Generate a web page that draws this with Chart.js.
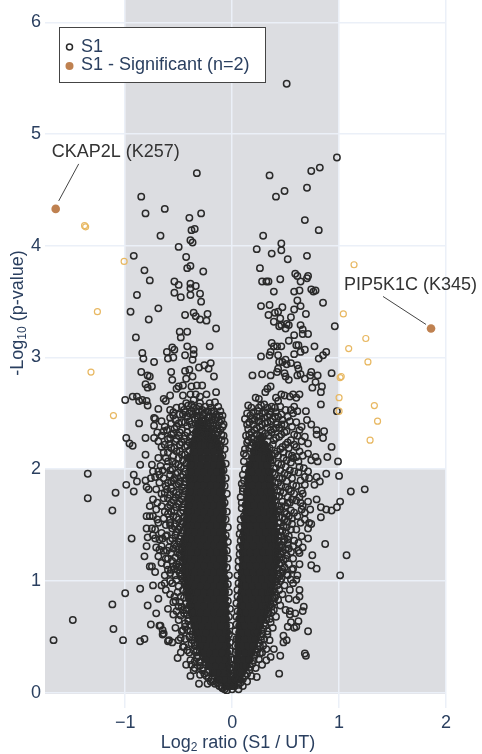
<!DOCTYPE html>
<html>
<head>
<meta charset="utf-8">
<script src="https://cdn.jsdelivr.net/npm/chart.js@4.4.1/dist/chart.umd.min.js"></script>
<style>
  html, body { margin: 0; padding: 0; background: #fff; }
</style>
</head>
<body>
<canvas id="volcano" width="482" height="754"></canvas>
<script>
// x: Log2 ratio (S1 / UT), y: -Log10 (p-value)
const sigX = [-1.65, 1.86];
const sigY = [4.33, 3.26];
const sigNames = ['CKAP2L (K257)', 'PIP5K1C (K345)'];
const xTicks = [-1, 0, 1, 2];
const yTicks = [0, 1, 2, 3, 4, 5, 6];

// outside the fold-change band, shown in sand colour
const nearPts = [
  [-1.38,4.18],[-1.37,4.17],[-1.01,3.86],[-1.26,3.41],[-1.32,2.87],[-1.11,2.48],
  [1.14,3.83],[1.04,3.39],[1.25,3.17],[1.09,3.08],[1.27,2.96],[1.01,2.82],[1.02,2.83],
  [1.00,2.64],[1.33,2.57],[1.00,2.52],[1.36,2.43],[1.29,2.26]
];

const upperLeft = [
  [-0.33,4.65],[-0.85,4.44],[-0.81,4.29],[-0.63,4.33],[-0.40,4.25],[-0.29,4.29],[-0.35,4.15],[-0.38,4.14],
  [-0.67,4.09],[-0.39,4.05],[-0.37,4.03],[-0.50,3.99],[-0.92,3.91],[-0.43,3.90],[-0.82,3.78],[-0.39,3.82],
  [-0.42,3.80],[-0.27,3.77],[-0.77,3.69],[-0.54,3.68],[-0.50,3.65],[-0.39,3.66],[-0.34,3.64],[-0.39,3.62],
  [-0.89,3.56],[-0.54,3.58],[-0.48,3.54],[-0.30,3.57],[-0.39,3.56],[-0.29,3.50],[-0.69,3.44],[-0.95,3.41],
  [-0.44,3.38],[-0.36,3.40],[-0.34,3.37],[-0.23,3.39],[-0.30,3.34],[-0.24,3.33],[-0.78,3.34],[-0.49,3.23],
  [-0.48,3.18],[-0.42,3.23],[-0.15,3.26],[-0.90,3.18],[-0.42,3.10],[-0.21,3.10],[-0.56,3.09],[-0.54,3.07],
  [-0.61,3.05],[-0.60,2.99],[-0.55,3.00],[-0.84,3.04],[-0.83,2.99],[-0.73,2.96],[-0.36,3.07],[-0.36,3.03],
  [-0.37,2.98],[-0.44,3.02],[-0.20,2.95],[-0.26,2.93],[-0.31,2.91],[-0.22,2.90],[-0.85,2.87],[-0.79,2.84],
  [-0.77,2.83],[-0.57,2.87],[-0.56,2.80],[-0.44,2.88],[-0.40,2.89],[-0.43,2.81],[-0.37,2.83],[-0.17,2.83],
  [-0.81,2.76],[-0.79,2.73],[-0.75,2.74],[-0.52,2.72],[-0.50,2.74],[-0.46,2.75],[-0.38,2.74],[-0.33,2.75],
  [-0.28,2.75],[-0.15,2.69],[-1.00,2.62],[-0.93,2.65],[-0.89,2.65],[-0.87,2.61],[-0.84,2.62],[-0.80,2.61],
  [-0.79,2.57],[-0.64,2.63],[-0.62,2.61],[-0.58,2.66],[-0.69,2.54],[-0.73,2.46],[-0.46,2.66],[-0.39,2.67],
  [-0.34,2.67],[-0.30,2.65],[-0.24,2.67],[-0.36,2.62],[-0.43,2.59],[-0.30,2.59],[-0.21,2.59],[-0.58,2.53],
  [-0.55,2.51],[-0.46,2.49],[-0.38,2.52],[-0.31,2.56],[-0.17,2.52],[-0.15,2.49],[-0.26,2.50],[-0.21,2.46]
];

const upperRight = [
  [0.51,5.45],[0.98,4.79],[0.74,4.67],[0.82,4.70],[0.35,4.63],[0.70,4.52],[0.49,4.49],[0.41,4.44],
  [0.68,4.23],[0.81,4.14],[0.29,4.09],[0.46,4.02],[0.46,3.96],[0.23,3.97],[0.37,3.93],[0.70,3.91],
  [0.52,3.88],[0.26,3.80],[0.59,3.75],[0.61,3.73],[0.71,3.73],[0.70,3.71],[0.28,3.68],[0.32,3.68],
  [0.34,3.68],[0.45,3.70],[0.64,3.68],[0.39,3.59],[0.58,3.59],[0.63,3.60],[0.74,3.61],[0.78,3.60],
  [0.76,3.59],[0.61,3.51],[0.85,3.49],[0.27,3.46],[0.35,3.47],[0.47,3.45],[0.58,3.43],[0.64,3.46],
  [0.34,3.38],[0.40,3.40],[0.43,3.41],[0.45,3.35],[0.39,3.32],[0.55,3.36],[0.53,3.29],[0.46,3.29],
  [0.44,3.28],[0.51,3.30],[0.50,3.26],[0.69,3.39],[0.96,3.28],[0.64,3.29],[0.66,3.25],[0.71,3.21],
  [0.66,3.21],[0.58,3.20],[0.53,3.15],[0.62,3.11],[0.37,3.13],[0.39,3.10],[0.42,3.10],[0.46,3.10],
  [0.36,3.05],[0.60,3.11],[0.64,3.05],[0.68,3.07],[0.77,3.10],[0.88,3.05],[0.85,3.02],[0.81,2.99],
  [0.27,3.01],[0.35,3.02],[0.43,3.02],[0.44,2.96],[0.47,2.96],[0.50,2.98],[0.51,2.94],[0.55,2.95],
  [0.58,3.03],[0.61,2.93],[0.62,2.90],[0.19,2.84],[0.28,2.85],[0.36,2.84],[0.43,2.90],[0.42,2.87],
  [0.49,2.86],[0.50,2.83],[0.53,2.80],[0.61,2.84],[0.64,2.85],[0.68,2.81],[0.74,2.87],[0.73,2.84],
  [0.80,2.84],[0.78,2.78],[0.75,2.73],[0.84,2.74],[0.83,2.69],[0.93,2.86],[0.22,2.64],[0.25,2.63],
  [0.31,2.69],[0.33,2.72],[0.36,2.74],[0.41,2.64],[0.43,2.61],[0.46,2.67],[0.49,2.66],[0.54,2.65],
  [0.57,2.67],[0.60,2.64],[0.63,2.67],[0.58,2.56],[0.55,2.53],[0.61,2.52],[0.40,2.55],[0.33,2.55],
  [0.24,2.52],[0.69,2.52],[0.83,2.58],[0.98,2.52]
];

const midLeft = [
  [-0.87,2.41],[-0.73,2.39],[-0.72,2.45],[-0.70,2.33],[-0.81,2.28],[-0.99,2.28],[-0.96,2.23],[-0.93,2.21],
  [-0.81,2.13],[-0.86,2.04],[-0.73,2.28],[-0.75,2.04],[-0.74,1.98],[-0.69,1.98],[-0.72,1.93],[-0.68,1.95],
  [-0.65,1.99],[-0.92,1.95],[-0.89,1.89],[-0.99,1.86],[-0.92,1.80],[-1.09,1.79],[-1.12,1.63],[-1.35,1.96],
  [-1.35,1.74],[-0.81,1.90],[-0.76,1.92],[-0.78,1.82],[-0.80,1.84],[-0.74,1.73],[-0.71,1.64],[-0.77,1.67],
  [-0.80,1.58],[-0.77,1.58],[-0.74,1.58],[-0.80,1.47],[-0.75,1.47],[-0.74,1.41],[-0.72,1.38],[-0.79,1.39],
  [-0.94,1.38],[-0.68,1.37],[-0.65,1.38],[-0.61,1.41],[-0.66,1.31],[-0.68,1.28],[-0.82,1.22],[-0.77,1.13],
  [-0.80,1.31],[-0.66,1.16],[-0.75,1.13],[-0.69,2.10],[-0.64,2.15],[-0.60,2.27],[-0.66,2.20],[-0.62,1.85],
  [-0.66,1.78],[-0.58,1.68],[-0.63,1.62],[-0.69,1.52],[-0.58,1.52],[-0.64,1.27],[-0.60,1.20]
];

const midRight = [
  [0.11,2.14],[0.16,2.04],[0.09,1.87],[0.08,1.75],[0.11,1.58],[0.10,1.40],[0.99,2.07],[1.00,1.94],
  [1.11,1.80],[1.24,1.82],[0.88,1.96],[0.93,2.20],[0.89,2.11],[0.86,2.34],[0.85,2.28],[0.79,2.31],
  [0.79,2.35],[0.71,2.14],[0.74,2.08],[0.80,2.07],[0.78,2.11],[0.79,1.93],[0.82,1.89],[0.77,1.86],
  [0.72,1.92],[0.68,1.86],[1.01,1.71],[0.98,1.66],[0.93,1.63],[0.88,1.64],[0.83,1.66],[0.79,1.73],
  [0.71,1.71],[0.73,1.64],[0.83,1.57],[0.87,1.33],[0.75,1.23],[1.07,1.23],[0.68,1.55],[0.72,1.52],
  [0.71,1.47],[0.65,1.64],[0.66,1.67],[0.63,1.75],[0.65,1.81],[0.68,1.93],[0.71,1.98],[0.63,2.02],
  [0.60,2.11],[0.63,2.16],[0.74,2.40],[0.70,2.44],[0.65,2.38],[0.68,2.29],[0.71,2.23],[0.65,2.25],
  [0.74,1.14],[0.79,1.11],[1.01,1.05],[0.71,1.38],[0.74,1.51],[0.66,1.30],[0.63,1.25]
];

const lowLeft = [
  [-1.12,0.79],[-1.00,0.89],[-1.11,0.57],[-1.02,0.47],[-0.86,0.93],[-0.86,0.46],[-0.82,0.48],[-0.79,0.78],
  [-0.71,0.71],[-0.76,0.61],[-0.67,0.60],[-0.65,0.56],[-0.65,0.52],[-0.60,0.46],[-0.51,0.31],[-0.39,0.15],
  [-0.31,0.08],[-0.23,0.08],[-1.67,0.47],[-1.49,0.65],[-0.68,0.60],[-0.64,0.53],[-0.59,0.47],[-0.18,0.10],
  [-0.63,0.98],[-0.66,0.96],[-0.57,1.10],[-0.54,1.11],[-0.58,1.07],[-0.54,0.86],[-0.55,0.81],[-0.52,0.73],
  [-0.50,0.77],[-0.46,0.74],[-0.46,0.56],[-0.48,0.49],[-0.46,0.41],[-0.50,0.47],[-0.39,0.29],[-0.38,0.25],
  [-0.35,0.22],[-0.42,0.38],[-0.33,0.38]
];

const lowRight = [
  [0.63,0.92],[0.63,0.86],[0.67,0.77],[0.66,0.73],[0.54,0.73],[0.60,0.83],[0.71,0.55],[0.60,0.59],
  [0.58,0.58],[0.52,0.59],[0.68,0.35],[0.69,0.33],[0.44,0.17],[0.45,0.33],[0.39,0.39],[0.48,0.51],
  [0.48,0.45],[0.51,0.47],[0.54,0.92],[0.57,0.98],[0.36,0.32],[0.32,0.29],[0.28,0.25],[0.23,0.14],
  [0.55,0.63],[0.62,0.64],[0.54,0.70],[0.59,0.71],[0.57,1.11],[0.61,1.05],[0.60,1.01],[0.52,1.05],
  [0.46,1.02]
];

// loose points hugging the dense arms
const fringeLeft = [
  [-0.36,0.38],[-0.38,0.44],[-0.35,0.28],[-0.40,0.50],[-0.42,0.56],[-0.44,0.62],[-0.41,0.66],[-0.45,0.71],
  [-0.47,0.77],[-0.43,0.80],[-0.48,0.86],[-0.46,0.92],[-0.50,0.95],[-0.52,1.01],[-0.48,1.04],[-0.51,1.10],
  [-0.55,1.13],[-0.49,1.17],[-0.53,1.21],[-0.57,1.25],[-0.50,1.28],[-0.54,1.33],[-0.58,1.36],[-0.48,1.40],
  [-0.52,1.44],[-0.56,1.47],[-0.47,1.51],[-0.50,1.55],[-0.55,1.58],[-0.60,1.60],[-0.46,1.63],[-0.52,1.66],
  [-0.57,1.70],[-0.47,1.73],[-0.50,1.77],[-0.55,1.80],[-0.61,1.82],[-0.45,1.86],[-0.49,1.89],[-0.54,1.92],
  [-0.58,1.95],[-0.44,1.98],[-0.48,2.02],[-0.53,2.05],[-0.60,2.07],[-0.42,2.10],[-0.47,2.13],[-0.52,2.16],
  [-0.57,2.19],[-0.63,2.22],[-0.40,2.24],[-0.45,2.27],[-0.50,2.30],[-0.55,2.32],[-0.61,2.35],[-0.37,2.36],
  [-0.42,2.39],[-0.47,2.42],[-0.53,2.44],[-0.58,2.46],[-0.66,2.43],[-0.34,2.41],[-0.29,2.38],[-0.24,2.36],
  [-0.19,2.33],[-0.14,2.30],[-0.10,2.26],[-0.25,2.44],[-0.20,2.41],[-0.15,2.39],[-0.11,2.35],[-0.33,2.48],
  [-0.28,2.46],[-0.40,2.50],[-0.45,2.53],[-0.36,2.55],[-0.12,2.42],[-0.18,2.47],[-0.23,2.52],[-0.13,2.56],
  [-0.08,2.30],[-0.07,2.18],[-0.06,2.05],[-0.06,1.92],[-0.05,1.78],[-0.05,1.62],[-0.04,1.48],[-0.04,1.35],
  [-0.04,1.20],[-0.03,1.05],[-0.03,0.90],[-0.02,0.75],[-0.02,0.60],[-0.02,0.45],[-0.01,0.30],[-0.01,0.15],
  [0.00,0.03],[-0.05,0.02],[-0.10,0.05],[-0.14,0.09],[-0.19,0.12],[-0.23,0.18],[-0.27,0.22],[-0.30,0.27],
  [-0.32,0.33],[-0.63,1.05],[-0.66,1.43],[-0.70,1.55],[-0.62,1.50],[-0.64,1.74],[-0.68,1.88],[-0.59,1.30],
  [-0.62,1.20],[-0.56,0.98],[-0.58,0.88],[-0.53,0.82],[-0.55,0.70],[-0.50,0.65],[-0.47,0.55],[-0.44,0.48],
  [-0.40,0.36],[-0.60,0.75],[-0.62,0.92],[-0.69,1.22],[-0.72,1.08],[-0.74,0.96],[-0.69,0.84],[-0.56,0.45],
  [-0.48,0.36],[-0.43,0.25],[-0.36,0.20],[-0.30,0.16],[-0.45,0.41],[-0.53,0.58],
  [-0.46,1.02],[-0.49,1.07],[-0.53,1.05],[-0.47,1.12],[-0.52,1.15],[-0.56,1.18],[-0.61,1.14],[-0.48,1.22],
  [-0.51,1.25],[-0.55,1.29],[-0.61,1.27],[-0.47,1.30],[-0.50,1.35],[-0.56,1.38],[-0.62,1.40],[-0.46,1.45],
  [-0.49,1.48],[-0.53,1.51],[-0.58,1.55],[-0.64,1.56],[-0.45,1.57],[-0.48,1.61],[-0.54,1.63],[-0.60,1.66],
  [-0.66,1.67],[-0.45,1.69],[-0.49,1.71],[-0.53,1.75],[-0.58,1.77],[-0.63,1.79],[-0.44,1.80],[-0.47,1.84],
  [-0.52,1.86],[-0.57,1.89],[-0.64,1.92],[-0.43,1.92],[-0.46,1.95],[-0.51,1.97],[-0.56,2.00],[-0.61,2.02],
  [-0.43,2.05],[-0.46,2.08],[-0.50,2.10],[-0.55,2.12],[-0.60,2.15],[-0.40,2.17],[-0.44,2.20],[-0.49,2.22],
  [-0.53,2.25],[-0.58,2.28],[-0.66,2.30],[-0.38,2.30],[-0.42,2.33],[-0.47,2.35],[-0.52,2.38],[-0.57,2.41],
  [-0.63,2.38],[-0.35,2.26],[-0.30,2.28],[-0.26,2.30],[-0.21,2.28],[-0.16,2.26],[-0.12,2.22],[-0.32,2.33],
  [-0.27,2.35],[-0.22,2.38],[-0.17,2.36],[-0.13,2.33],[-0.09,2.38],[-0.30,2.42],[-0.35,2.45],[-0.40,2.43],
  [-0.27,2.40],[-0.19,2.44],[-0.14,2.46],[-0.10,2.44],[-0.42,2.47],[-0.49,2.49],[-0.52,2.55],[-0.41,2.57],
  [-0.34,2.52],[-0.28,2.53],[-0.20,2.55],[-0.16,2.60],[-0.11,2.52],[-0.08,2.40],[-0.07,2.25],[-0.09,2.12],
  [-0.08,1.99],[-0.07,1.85],[-0.07,1.70],[-0.06,1.55],[-0.06,1.41],[-0.05,1.27],[-0.05,1.12],[-0.04,0.97],
  [-0.04,0.82],[-0.03,0.68],[-0.03,0.52],[-0.02,0.37],[-0.02,0.22],[-0.43,0.95],[-0.45,0.85],[-0.43,0.74],
  [-0.41,0.64],[-0.39,0.55],[-0.37,0.47],[-0.35,0.42],[-0.33,0.31],[-0.30,0.24],[-0.26,0.17],[-0.22,0.13],
  [-0.16,0.08],[-0.09,0.04],[-0.58,1.00],[-0.60,1.10],[-0.51,0.90],[-0.49,0.81],[-0.48,0.69],[-0.44,0.59],
  [-0.71,1.30],[-0.72,1.46],[-0.70,1.70],[-0.71,1.82],[-0.67,2.03],[-0.69,2.25],[-0.64,2.34]
];

const denseLeft = [
  [-0.45,1.00],[-0.47,1.06],[-0.50,1.13],[-0.46,1.18],[-0.49,1.24],[-0.47,1.27],[-0.52,1.31],[-0.46,1.34],
  [-0.49,1.38],[-0.53,1.41],[-0.47,1.43],[-0.50,1.46],[-0.54,1.49],[-0.58,1.50],[-0.46,1.53],[-0.52,1.57],
  [-0.57,1.62],[-0.47,1.66],[-0.50,1.69],[-0.55,1.72],[-0.60,1.74],[-0.46,1.76],[-0.52,1.79],[-0.57,1.83],
  [-0.45,1.83],[-0.50,1.87],[-0.55,1.90],[-0.60,1.88],[-0.44,1.89],[-0.48,1.93],[-0.53,1.96],[-0.58,1.99],
  [-0.45,2.01],[-0.50,2.04],[-0.56,2.07],[-0.62,2.10],[-0.44,2.13],[-0.49,2.16],[-0.54,2.19],[-0.59,2.22],
  [-0.42,2.21],[-0.47,2.24],[-0.52,2.27],[-0.57,2.31],[-0.36,2.22],[-0.39,2.28],[-0.44,2.30],[-0.49,2.33],
  [-0.54,2.36],[-0.34,2.33],[-0.38,2.40],[-0.44,2.42],[-0.50,2.41],[-0.55,2.48],[-0.31,2.36],[-0.26,2.33],
  [-0.23,2.30],[-0.19,2.27],[-0.14,2.24],[-0.11,2.20],[-0.29,2.31],[-0.24,2.26],[-0.20,2.22],[-0.28,2.43],
  [-0.23,2.41],[-0.18,2.39],[-0.14,2.36],[-0.10,2.31],[-0.32,2.45],[-0.37,2.49],[-0.44,2.51],[-0.27,2.49],
  [-0.22,2.47],[-0.16,2.44],[-0.12,2.48],[-0.31,2.52],[-0.38,2.58],[-0.47,2.56],[-0.25,2.56],[-0.19,2.52],
  [-0.09,2.48],[-0.41,0.86],[-0.43,0.90],[-0.44,0.97],[-0.40,0.78],[-0.42,0.70],[-0.39,0.60],[-0.37,0.52],
  [-0.35,0.45],[-0.34,0.36],[-0.31,0.28],[-0.28,0.20],[-0.24,0.15],[-0.20,0.10],[-0.12,0.06],[-0.07,0.03]
];

const fringeRight = [
  [0.25,0.30],[0.22,0.22],[0.18,0.15],[0.14,0.10],[0.10,0.06],[0.06,0.03],[0.28,0.36],[0.26,0.42],
  [0.30,0.48],[0.33,0.55],[0.31,0.60],[0.35,0.66],[0.37,0.72],[0.34,0.76],[0.39,0.81],[0.41,0.87],
  [0.38,0.91],[0.42,0.96],[0.45,1.00],[0.43,1.06],[0.47,1.10],[0.44,1.15],[0.48,1.19],[0.45,1.24],
  [0.50,1.28],[0.46,1.32],[0.49,1.37],[0.53,1.40],[0.45,1.44],[0.48,1.49],[0.52,1.53],[0.44,1.57],
  [0.49,1.61],[0.55,1.63],[0.43,1.67],[0.47,1.71],[0.52,1.75],[0.58,1.78],[0.42,1.81],[0.46,1.85],
  [0.51,1.89],[0.56,1.92],[0.40,1.95],[0.45,1.99],[0.50,2.02],[0.55,2.06],[0.38,2.08],[0.43,2.12],
  [0.48,2.15],[0.53,2.19],[0.58,2.22],[0.22,2.20],[0.27,2.23],[0.33,2.25],[0.38,2.22],[0.41,2.28],
  [0.46,2.31],[0.51,2.34],[0.56,2.38],[0.18,2.28],[0.23,2.31],[0.28,2.34],[0.33,2.37],[0.37,2.33],
  [0.42,2.40],[0.47,2.44],[0.52,2.47],[0.15,2.36],[0.20,2.40],[0.25,2.43],[0.30,2.46],[0.35,2.49],
  [0.40,2.47],[0.14,2.24],[0.13,2.12],[0.12,2.00],[0.11,1.90],[0.10,1.80],[0.09,1.70],[0.08,1.55],
  [0.07,1.42],[0.07,1.30],[0.06,1.18],[0.05,1.05],[0.05,0.92],[0.04,0.80],[0.04,0.68],[0.03,0.55],
  [0.03,0.42],[0.02,0.30],[0.02,0.18],[0.56,1.56],[0.60,1.46],[0.58,1.36],[0.55,1.26],[0.53,1.15],
  [0.51,1.06],[0.49,0.96],[0.47,0.88],[0.45,0.78],[0.41,0.68],[0.38,0.58],[0.35,0.47],[0.32,0.39],
  [0.53,0.84],[0.50,0.74],[0.57,1.20],[0.62,1.34],[0.61,1.58],[0.64,1.70],[0.60,1.85],[0.62,1.97],
  [0.57,2.10],[0.66,2.12],[0.61,2.30],[0.57,2.50],[0.45,2.56],[0.27,2.57],[0.17,2.48],[0.12,2.45],
  [0.42,1.02],[0.45,1.07],[0.49,1.12],[0.42,1.18],[0.46,1.21],[0.51,1.23],[0.43,1.28],[0.47,1.30],
  [0.52,1.33],[0.57,1.31],[0.43,1.36],[0.46,1.40],[0.50,1.43],[0.55,1.46],[0.42,1.48],[0.45,1.52],
  [0.49,1.55],[0.53,1.58],[0.58,1.61],[0.41,1.60],[0.45,1.64],[0.50,1.67],[0.54,1.70],[0.60,1.72],
  [0.40,1.72],[0.44,1.76],[0.48,1.79],[0.53,1.82],[0.57,1.86],[0.39,1.84],[0.43,1.88],[0.47,1.92],
  [0.52,1.95],[0.58,1.98],[0.38,1.97],[0.41,2.01],[0.46,2.04],[0.51,2.08],[0.56,2.12],[0.36,2.08],
  [0.40,2.14],[0.45,2.18],[0.50,2.22],[0.55,2.26],[0.34,2.14],[0.30,2.17],[0.25,2.18],[0.20,2.16],
  [0.16,2.19],[0.19,2.24],[0.24,2.26],[0.29,2.29],[0.34,2.30],[0.39,2.36],[0.44,2.37],[0.49,2.40],
  [0.54,2.43],[0.16,2.31],[0.21,2.35],[0.26,2.38],[0.31,2.41],[0.36,2.43],[0.41,2.51],[0.46,2.49],
  [0.50,2.53],[0.14,2.40],[0.19,2.45],[0.23,2.47],[0.28,2.50],[0.33,2.47],[0.37,2.56],[0.18,2.55],
  [0.13,2.30],[0.12,2.18],[0.11,2.07],[0.10,1.95],[0.10,1.83],[0.09,1.65],[0.08,1.48],[0.08,1.36],
  [0.07,1.24],[0.06,1.12],[0.06,0.98],[0.05,0.86],[0.05,0.73],[0.04,0.61],[0.04,0.48],[0.03,0.36],
  [0.03,0.24],[0.03,0.12],[0.39,0.95],[0.40,0.85],[0.36,0.79],[0.33,0.70],[0.30,0.62],[0.28,0.53],
  [0.27,0.47],[0.24,0.39],[0.21,0.33],[0.19,0.26],[0.16,0.20],[0.12,0.15],[0.08,0.09],[0.44,0.92],
  [0.43,0.83],[0.39,0.74],[0.36,0.63],[0.33,0.52],[0.29,0.42],[0.26,0.35],[0.55,1.01],[0.56,1.10],
  [0.63,1.15],[0.62,1.27],[0.65,1.40],[0.64,1.52],[0.68,1.61],[0.66,1.78],[0.64,1.90],[0.67,2.01],
  [0.62,2.07],[0.60,2.20],[0.63,2.35],[0.60,2.42],[0.58,2.31]
];

const denseRight = [
  [0.41,0.99],[0.44,1.04],[0.47,1.08],[0.42,1.11],[0.46,1.16],[0.50,1.20],[0.43,1.23],[0.47,1.26],
  [0.53,1.29],[0.44,1.32],[0.48,1.35],[0.52,1.37],[0.43,1.40],[0.47,1.45],[0.51,1.48],[0.56,1.51],
  [0.43,1.52],[0.47,1.57],[0.51,1.60],[0.42,1.63],[0.46,1.67],[0.52,1.70],[0.56,1.73],[0.41,1.76],
  [0.45,1.80],[0.50,1.84],[0.55,1.80],[0.40,1.88],[0.44,1.92],[0.49,1.96],[0.54,1.99],[0.39,2.01],
  [0.43,2.05],[0.48,2.10],[0.53,2.13],[0.37,2.12],[0.42,2.16],[0.47,2.20],[0.52,2.24],[0.35,2.19],
  [0.39,2.26],[0.44,2.29],[0.49,2.33],[0.31,2.21],[0.27,2.20],[0.22,2.22],[0.18,2.21],[0.15,2.26],
  [0.20,2.27],[0.26,2.30],[0.31,2.32],[0.36,2.35],[0.41,2.37],[0.46,2.40],[0.18,2.33],[0.23,2.37],
  [0.28,2.40],[0.33,2.42],[0.38,2.45],[0.43,2.47],[0.16,2.42],[0.21,2.44],[0.26,2.47],[0.31,2.51],
  [0.36,2.52],[0.14,2.50],[0.20,2.51],[0.25,2.55],[0.30,2.58],[0.15,2.57],[0.40,0.90],[0.38,0.84],
  [0.37,0.77],[0.34,0.72],[0.32,0.65],[0.29,0.57],[0.27,0.50],[0.25,0.44],[0.23,0.36],[0.20,0.29],
  [0.17,0.23],[0.14,0.17],[0.10,0.12],[0.06,0.07]
];

// overplotted cores of the two arms, one row per -log10(p): [y, x, x, ...]
const coreLeft = [
  [0.06,-0.02,-0.06],
  [0.12,-0.03,-0.08,-0.13],
  [0.18,-0.04,-0.09,-0.14,-0.18],
  [0.24,-0.04,-0.10,-0.16,-0.22],
  [0.30,-0.05,-0.08,-0.13,-0.19,-0.25],
  [0.36,-0.05,-0.10,-0.16,-0.22,-0.28],
  [0.42,-0.05,-0.08,-0.13,-0.19,-0.25,-0.30],
  [0.48,-0.05,-0.10,-0.16,-0.22,-0.28,-0.32],
  [0.54,-0.05,-0.08,-0.13,-0.19,-0.25,-0.31,-0.34],
  [0.60,-0.06,-0.11,-0.17,-0.23,-0.29,-0.35],
  [0.66,-0.06,-0.09,-0.14,-0.20,-0.26,-0.32,-0.36],
  [0.72,-0.06,-0.12,-0.18,-0.24,-0.30,-0.36,-0.38],
  [0.78,-0.06,-0.09,-0.15,-0.21,-0.27,-0.33,-0.39],
  [0.84,-0.07,-0.12,-0.18,-0.24,-0.30,-0.36,-0.40],
  [0.90,-0.07,-0.10,-0.15,-0.21,-0.27,-0.33,-0.39,-0.41],
  [0.96,-0.07,-0.12,-0.18,-0.24,-0.30,-0.36,-0.42],
  [1.02,-0.07,-0.10,-0.15,-0.21,-0.27,-0.33,-0.39,-0.43],
  [1.08,-0.08,-0.12,-0.18,-0.24,-0.30,-0.36,-0.42,-0.44],
  [1.14,-0.08,-0.10,-0.15,-0.21,-0.27,-0.33,-0.39,-0.44],
  [1.20,-0.08,-0.12,-0.18,-0.24,-0.30,-0.36,-0.42,-0.45],
  [1.26,-0.08,-0.10,-0.15,-0.21,-0.27,-0.33,-0.39,-0.45],
  [1.32,-0.08,-0.12,-0.18,-0.24,-0.30,-0.36,-0.42,-0.45],
  [1.38,-0.08,-0.11,-0.15,-0.21,-0.27,-0.33,-0.39,-0.44],
  [1.44,-0.09,-0.12,-0.18,-0.24,-0.30,-0.36,-0.42],
  [1.50,-0.09,-0.15,-0.21,-0.27,-0.33,-0.39,-0.43],
  [1.56,-0.09,-0.12,-0.18,-0.24,-0.30,-0.36,-0.42],
  [1.62,-0.09,-0.15,-0.21,-0.27,-0.33,-0.39,-0.42],
  [1.68,-0.09,-0.12,-0.18,-0.24,-0.30,-0.36,-0.41],
  [1.74,-0.09,-0.15,-0.21,-0.27,-0.33,-0.39,-0.41],
  [1.80,-0.10,-0.12,-0.18,-0.24,-0.30,-0.36,-0.40],
  [1.86,-0.10,-0.15,-0.21,-0.27,-0.33,-0.39],
  [1.92,-0.10,-0.13,-0.18,-0.24,-0.30,-0.36,-0.40],
  [1.98,-0.10,-0.15,-0.21,-0.27,-0.33,-0.39],
  [2.04,-0.10,-0.13,-0.18,-0.24,-0.30,-0.36,-0.39],
  [2.10,-0.11,-0.17,-0.23,-0.29,-0.35,-0.40],
  [2.16,-0.12,-0.18,-0.24,-0.30,-0.36],
  [2.22,-0.14,-0.20,-0.26,-0.32,-0.37],
  [2.28,-0.17,-0.23,-0.29,-0.34],
  [2.34,-0.21,-0.27,-0.33],
  [2.40,-0.26,-0.31]
];

const coreRight = [
  [0.06,0.02],
  [0.12,0.03,0.07],
  [0.18,0.04,0.09],
  [0.24,0.05,0.10,0.13],
  [0.30,0.05,0.11,0.16],
  [0.36,0.06,0.12,0.18],
  [0.42,0.06,0.10,0.15,0.20],
  [0.48,0.06,0.12,0.18,0.22],
  [0.54,0.07,0.10,0.15,0.21,0.24],
  [0.60,0.07,0.12,0.18,0.24,0.26],
  [0.66,0.07,0.10,0.15,0.21,0.27,0.28],
  [0.72,0.08,0.13,0.19,0.25,0.30],
  [0.78,0.08,0.10,0.16,0.22,0.28,0.32],
  [0.84,0.08,0.13,0.19,0.25,0.31,0.34],
  [0.90,0.09,0.11,0.16,0.22,0.28,0.34,0.36],
  [0.96,0.09,0.13,0.19,0.25,0.31,0.37],
  [1.02,0.09,0.11,0.16,0.22,0.28,0.34,0.38],
  [1.08,0.09,0.14,0.20,0.26,0.32,0.38,0.39],
  [1.14,0.10,0.12,0.17,0.23,0.29,0.35,0.40],
  [1.20,0.10,0.14,0.20,0.26,0.32,0.38,0.41],
  [1.26,0.10,0.12,0.17,0.23,0.29,0.35,0.41],
  [1.32,0.10,0.14,0.20,0.26,0.32,0.38,0.41],
  [1.38,0.11,0.17,0.23,0.29,0.35,0.40],
  [1.44,0.11,0.14,0.20,0.26,0.32,0.38,0.40],
  [1.50,0.12,0.17,0.23,0.29,0.35,0.39],
  [1.56,0.12,0.15,0.20,0.26,0.32,0.38,0.39],
  [1.62,0.13,0.18,0.24,0.30,0.36,0.39],
  [1.68,0.13,0.15,0.21,0.27,0.33,0.38],
  [1.74,0.14,0.18,0.24,0.30,0.36,0.38],
  [1.80,0.14,0.16,0.21,0.27,0.33,0.37],
  [1.86,0.15,0.19,0.25,0.31,0.36],
  [1.92,0.15,0.16,0.22,0.28,0.34,0.36],
  [1.98,0.16,0.19,0.25,0.31,0.35],
  [2.04,0.17,0.22,0.28,0.33],
  [2.10,0.19,0.25,0.31,0.35],
  [2.16,0.21,0.27,0.33],
  [2.22,0.24,0.30],
  [2.28,0.27]
];

const ink = '#2a2a2a';
const sigColor = '#bf8150';
const nearColor = '#e8b862';
const axisBlue = '#2a3f5f';
const gridColor = '#ebf0f8';
const fontFamily = "'Liberation Sans', Arial, sans-serif";

const toXY = pts => pts.map(p => ({ x: p[0], y: p[1] }));
const fromRows = rows => rows.flatMap(r => r.slice(1).map(x => ({ x: x, y: r[0] })));

const openData = toXY([].concat(upperLeft, upperRight, midLeft, midRight, lowLeft, lowRight,
  fringeLeft, fringeRight, denseLeft, denseRight));
const coreData = fromRows(coreLeft).concat(fromRows(coreRight));
const nearData = toXY(nearPts);
const sigData = sigX.map((x, i) => ({ x: x, y: sigY[i] }));

function minusSign(v) {
  return v < 0 ? '\u2212' + Math.abs(v) : String(v);
}

// text with a subscript part, centred on (0, 0) of the current transform
function drawSubText(ctx, parts) {
  let total = 0;
  parts.forEach(p => { ctx.font = p[1] + 'px ' + fontFamily; total += ctx.measureText(p[0]).width; });
  let cx = -total / 2;
  parts.forEach(p => {
    ctx.font = p[1] + 'px ' + fontFamily;
    ctx.fillText(p[0], cx, p[2]);
    cx += ctx.measureText(p[0]).width;
  });
}

const shading = {
  id: 'shading',
  beforeDraw(chart) {
    const { ctx, chartArea: a, scales: { x, y } } = chart;
    ctx.save();
    ctx.fillStyle = '#fff';
    ctx.fillRect(0, 0, chart.width, chart.height);
    ctx.fillStyle = '#dcdde1';
    const y2 = y.getPixelForValue(2);
    ctx.fillRect(a.left, y2, a.right - a.left, a.bottom - y2);
    const xl = x.getPixelForValue(-1);
    const xr = x.getPixelForValue(1);
    ctx.fillRect(xl, a.top, xr - xl, y2 - a.top);
    ctx.restore();
  }
};

const overlay = {
  id: 'overlay',
  afterDraw(chart) {
    const { ctx, scales: { x, y } } = chart;
    ctx.save();
    ctx.textBaseline = 'middle';
    ctx.fillStyle = axisBlue;

    // axis titles
    ctx.save();
    ctx.translate(238, 743);
    drawSubText(ctx, [['Log', 18, 0], ['2', 12, 5], [' ratio (S1 / UT)', 18, 0]]);
    ctx.restore();
    ctx.save();
    ctx.translate(18, 313);
    ctx.rotate(-Math.PI / 2);
    drawSubText(ctx, [['-Log', 18, 0], ['10', 12, 5], [' (p-value)', 18, 0]]);
    ctx.restore();

    // labels for the significant sites
    const place = [
      { tx: -4, ty: -57, l0: [3, -8], l1: [23, -45] },
      { tx: -87, ty: -43, l0: [-5, -4], l1: [-48, -32] }
    ];
    ctx.font = '18px ' + fontFamily;
    sigData.forEach((d, i) => {
      const px = x.getPixelForValue(d.x);
      const py = y.getPixelForValue(d.y);
      const p = place[i];
      ctx.strokeStyle = '#444';
      ctx.lineWidth = 1;
      ctx.beginPath();
      ctx.moveTo(px + p.l0[0], py + p.l0[1]);
      ctx.lineTo(px + p.l1[0], py + p.l1[1]);
      ctx.stroke();
      ctx.fillStyle = '#333';
      ctx.textAlign = 'left';
      ctx.fillText(sigNames[i], px + p.tx, py + p.ty);
    });

    // legend box
    ctx.fillStyle = '#fff';
    ctx.fillRect(59, 27, 206, 55);
    ctx.strokeStyle = '#444';
    ctx.lineWidth = 1;
    ctx.strokeRect(59.5, 27.5, 206, 55);
    ctx.beginPath();
    ctx.arc(69.5, 47, 3, 0, Math.PI * 2);
    ctx.strokeStyle = ink;
    ctx.lineWidth = 1.5;
    ctx.stroke();
    ctx.beginPath();
    ctx.arc(69.5, 66, 4, 0, Math.PI * 2);
    ctx.fillStyle = sigColor;
    ctx.fill();
    ctx.fillStyle = axisBlue;
    ctx.font = '18px ' + fontFamily;
    ctx.textAlign = 'left';
    ctx.fillText('S1', 81, 47);
    ctx.fillText('S1 - Significant (n=' + sigData.length + ')', 81, 65.5);
    ctx.restore();
  }
};

new Chart(document.getElementById('volcano'), {
  type: 'scatter',
  data: {
    datasets: [
      { label: 'S1 - Significant', data: sigData, pointRadius: 4.3, pointBackgroundColor: sigColor, pointBorderWidth: 0 },
      { label: 'S1 (|ratio| > 1)', data: nearData, pointRadius: 3, pointBackgroundColor: 'rgba(0,0,0,0)', pointBorderColor: nearColor, pointBorderWidth: 1.2 },
      { label: 'S1', data: openData, pointRadius: 3.2, pointBackgroundColor: 'rgba(0,0,0,0)', pointBorderColor: ink, pointBorderWidth: 1.5 },
      { label: 'S1 dense', data: coreData, pointRadius: 4, pointBackgroundColor: ink, pointBorderColor: ink, pointBorderWidth: 1 }
    ]
  },
  options: {
    responsive: false,
    animation: false,
    devicePixelRatio: 1,
    events: [],
    layout: { autoPadding: false, padding: { top: 0, right: 36, bottom: 0, left: 0 } },
    plugins: { legend: { display: false }, tooltip: { enabled: false } },
    scales: {
      x: {
        type: 'linear',
        min: -1.75,
        max: 2,
        afterFit: s => { s.height = 60; s.paddingLeft = 0; s.paddingRight = 0; },
        afterBuildTicks: s => { s.ticks = xTicks.map(v => ({ value: v })); },
        border: { display: false },
        grid: { color: gridColor, lineWidth: 1.5, tickLength: 14, tickColor: gridColor },
        ticks: { padding: 4, color: axisBlue, maxRotation: 0, font: { family: fontFamily, size: 18 }, callback: minusSign }
      },
      y: {
        type: 'linear',
        min: -0.012,
        max: 6.2,
        afterFit: s => { s.width = 45; s.paddingTop = 0; s.paddingBottom = 0; },
        afterBuildTicks: s => { s.ticks = yTicks.map(v => ({ value: v })); },
        border: { display: false },
        grid: { color: gridColor, lineWidth: 1.5, drawTicks: false },
        ticks: { padding: 4, color: axisBlue, font: { family: fontFamily, size: 18 }, callback: minusSign }
      }
    }
  },
  plugins: [shading, overlay]
});
</script>
</body>
</html>
